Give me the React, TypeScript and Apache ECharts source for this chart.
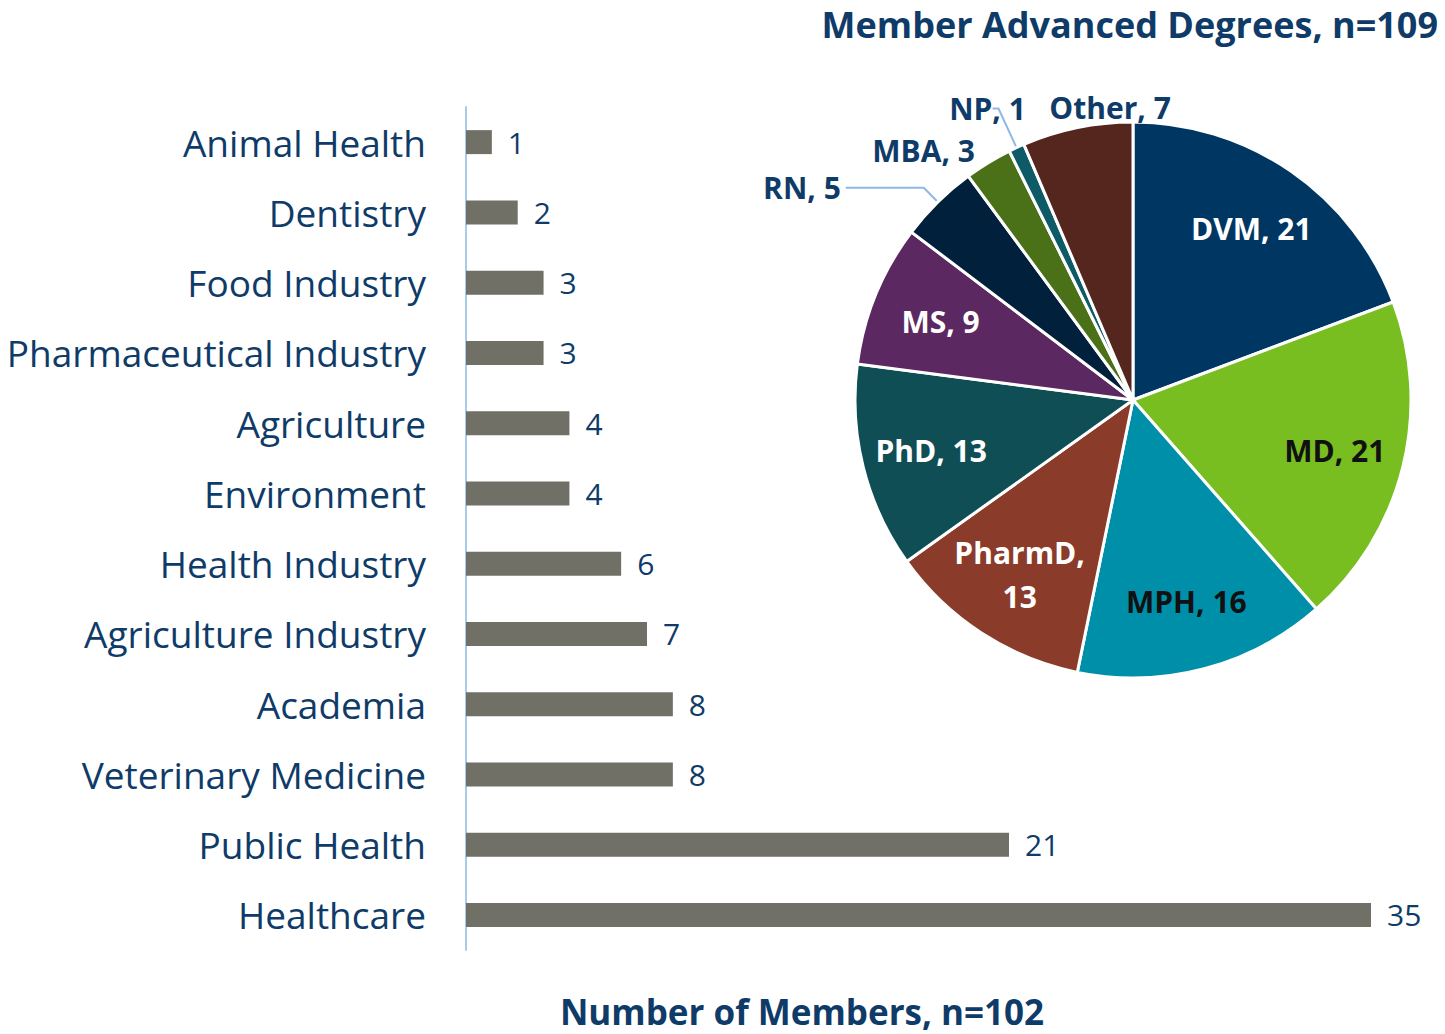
import React, { useEffect, useRef } from "react";
import * as echarts from "echarts";

const barCategories = [
  "Animal Health",
  "Dentistry",
  "Food Industry",
  "Pharmaceutical Industry",
  "Agriculture",
  "Environment",
  "Health Industry",
  "Agriculture Industry",
  "Academia",
  "Veterinary Medicine",
  "Public Health",
  "Healthcare",
];
const barValues = [1, 2, 3, 3, 4, 4, 6, 7, 8, 8, 21, 35];

const pieNames = ["DVM", "MD", "MPH", "PharmD", "PhD", "MS", "RN", "MBA", "NP", "Other"];
const pieValues = [21, 21, 16, 13, 13, 9, 5, 3, 1, 7];
const pieColors = [
  "#003662",
  "#78BE21",
  "#008FA8",
  "#8A3B2A",
  "#104E56",
  "#5B2862",
  "#00203C",
  "#4A7118",
  "#0E5A66",
  "#55261D",
];
const pieLabelColors = ["#FFFFFF", "#111111", "#111111", "#FFFFFF", "#FFFFFF", "#FFFFFF", "#0F3B68", "#0F3B68", "#0F3B68", "#0F3B68"];
const pieOutside = [false, false, false, false, false, false, true, true, true, true];
// label-line lengths for the small outside slices (first / second segment)
const pieLineLen = [0, 0, 0, 0, 0, 0, 20, 14, 43, 21];
const pieLineLen2 = [0, 0, 0, 0, 0, 0, 78, 1, 6, -42];
const pieLineShow = [false, false, false, false, false, false, true, false, true, false];
const pieLabelCentered = [false, false, false, false, false, false, false, false, true, true];

const barTitle = "Number of Members, n=102";
const pieTitle = "Member Advanced Degrees, n=109";

const FONT = "'Open Sans', Lato, sans-serif";
const NAVY = "#0F3B68";

export default function App() {
  const ref = useRef<HTMLDivElement>(null);
  useEffect(() => {
    if (!ref.current) return;
    const chart = echarts.init(ref.current, undefined, { renderer: "svg" });
    const pieMain = pieValues.map((v, i) => ({
      name: pieNames[i],
      value: v,
      itemStyle: { color: pieColors[i] },
    }));
    const pieLabelData = pieValues.map((v, i) => ({
      name: pieNames[i],
      value: v,
      label: {
        show: true,
        position: pieOutside[i] ? "outside" : "inside",
        color: pieLabelColors[i],
        formatter: pieNames[i] === "PharmD" ? "{b},\n{c}" : "{b}, {c}",
      },
      labelLine: {
        show: pieLineShow[i],
        length: pieLineLen[i],
        length2: pieLineLen2[i],
      },
    }));
    chart.setOption({
      animation: false,
      textStyle: { fontFamily: FONT },
      title: [
        {
          text: pieTitle,
          right: 7,
          top: 4,
          padding: 0,
          textStyle: { fontFamily: FONT, fontWeight: "bold", fontSize: 36, lineHeight: 40, color: NAVY },
        },
        {
          text: barTitle,
          left: 802,
          textAlign: "center",
          top: 993,
          padding: 0,
          textStyle: { fontFamily: FONT, fontWeight: "bold", fontSize: 35, lineHeight: 36, color: NAVY },
        },
      ],
      grid: { left: 466, right: 74, top: 107, bottom: 84, containLabel: false },
      xAxis: {
        type: "value",
        min: 0,
        max: 35,
        show: false,
      },
      yAxis: {
        type: "category",
        data: barCategories,
        inverse: true,
        axisLine: { show: true, lineStyle: { color: "#A9CBEA", width: 2 } },
        axisTick: { show: false },
        axisLabel: { fontFamily: FONT, fontSize: 37, color: NAVY, margin: 40 },
      },
      series: [
        {
          type: "bar",
          data: barValues,
          barWidth: 24,
          itemStyle: { color: "#717067" },
          label: {
            show: true,
            position: "right",
            distance: 16,
            fontFamily: FONT,
            fontSize: 30,
            color: NAVY,
          },
        },
        {
          type: "pie",
          center: [1133, 400],
          radius: [0, 278],
          startAngle: 90,
          clockwise: true,
          data: pieMain,
          label: { show: false },
          labelLine: { show: false },
          itemStyle: { borderColor: "#FFFFFF", borderWidth: 3 },
          silent: true,
        },
        {
          type: "pie",
          center: [1133, 400],
          radius: [132, 278],
          startAngle: 90,
          clockwise: true,
          avoidLabelOverlap: false,
          data: pieLabelData,
          itemStyle: { color: "rgba(0,0,0,0)" },
          emphasis: { disabled: true },
          silent: true,
          label: {
            fontFamily: FONT,
            fontWeight: "bold",
            fontSize: 30,
            lineHeight: 44,
            distanceToLabelLine: 5,
          },
          labelLine: {
            lineStyle: { color: "#8DB8E8", width: 2 },
          },
          labelLayout: (params: any) =>
            pieLabelCentered[params.dataIndex] ? { align: "center" } : {},
        },
      ],
    });
    return () => chart.dispose();
  }, []);
  return (
    <div
      ref={ref}
      style={{ position: "absolute", left: 0, top: 0, width: 1445, height: 1034, background: "#fff" }}
    />
  );
}
